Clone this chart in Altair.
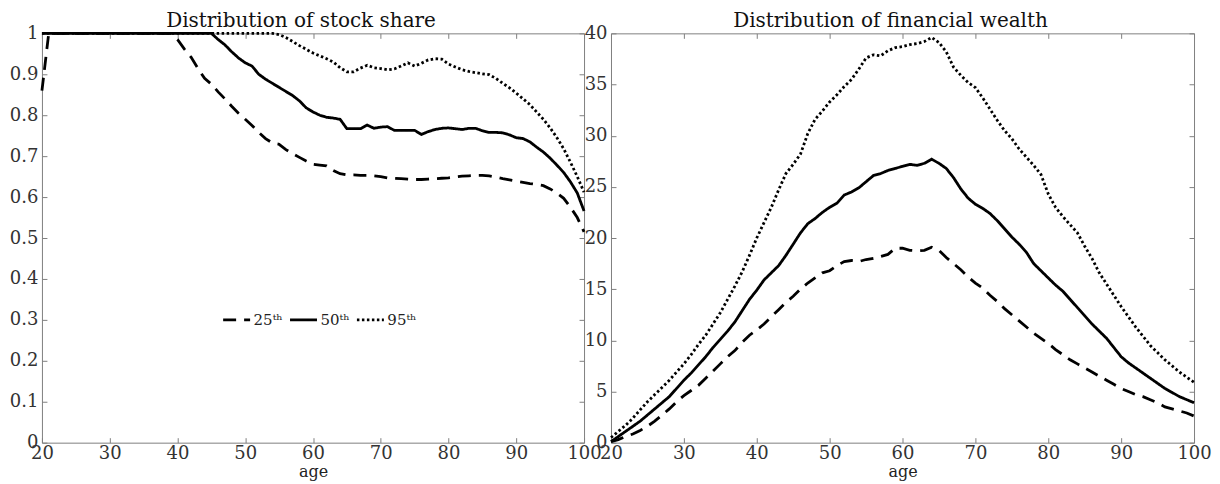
import altair as alt
import pandas as pd

ages = list(range(20, 101))
pct_labels = ["25ᵗʰ", "50ᵗʰ", "95ᵗʰ"]
x_ticks = [20, 30, 40, 50, 60, 70, 80, 90, 100]
share_ticks = [0, 0.1, 0.2, 0.3, 0.4, 0.5, 0.6, 0.7, 0.8, 0.9, 1]
wealth_ticks = [0, 5, 10, 15, 20, 25, 30, 35, 40]

share_p25 = [0.86,
             1.0, 1.0, 1.0, 1.0, 1.0, 1.0, 1.0, 1.0, 1.0, 1.0,
             1.0, 1.0, 1.0, 1.0, 1.0, 1.0, 1.0, 1.0, 1.0,
             0.985, 0.962, 0.942, 0.915, 0.89, 0.876, 0.857, 0.84, 0.822, 0.805,
             0.79, 0.775, 0.758, 0.743, 0.732, 0.729, 0.716, 0.706, 0.697, 0.688,
             0.68, 0.678, 0.676, 0.665, 0.657, 0.654, 0.654, 0.653, 0.653, 0.652,
             0.65, 0.647, 0.646, 0.645, 0.644, 0.643, 0.643, 0.644, 0.645, 0.646,
             0.647, 0.649, 0.651, 0.652, 0.653, 0.653, 0.652, 0.649, 0.645, 0.642,
             0.639, 0.636, 0.633, 0.631, 0.628, 0.62, 0.61, 0.597, 0.575, 0.55,
             0.515]
share_p50 = [1.0, 1.0, 1.0, 1.0, 1.0, 1.0, 1.0, 1.0, 1.0, 1.0,
             1.0, 1.0, 1.0, 1.0, 1.0, 1.0, 1.0, 1.0, 1.0, 1.0,
             1.0, 1.0, 1.0, 1.0, 1.0, 1.0,
             0.985, 0.972, 0.955, 0.94, 0.928, 0.92, 0.90, 0.888, 0.878, 0.868,
             0.858, 0.848, 0.835, 0.818, 0.808, 0.80, 0.795, 0.793, 0.79, 0.767,
             0.767, 0.767, 0.776, 0.768, 0.771, 0.772, 0.763, 0.763, 0.763, 0.763,
             0.753, 0.76, 0.765, 0.768, 0.769, 0.767, 0.765, 0.768, 0.768, 0.762,
             0.758, 0.758, 0.757, 0.752, 0.745, 0.743, 0.735, 0.722, 0.71, 0.695,
             0.678, 0.66, 0.637, 0.61, 0.566]
share_p95 = [1.0, 1.0, 1.0, 1.0, 1.0, 1.0, 1.0, 1.0, 1.0, 1.0,
             1.0, 1.0, 1.0, 1.0, 1.0, 1.0, 1.0, 1.0, 1.0, 1.0,
             1.0, 1.0, 1.0, 1.0, 1.0, 1.0, 1.0, 1.0, 1.0, 1.0,
             1.0, 1.0, 1.0, 1.0, 1.0,
             0.997, 0.99, 0.98, 0.97, 0.961,
             0.952, 0.945, 0.938, 0.93, 0.916, 0.906, 0.906, 0.915, 0.922, 0.916,
             0.914, 0.911, 0.913, 0.92, 0.928, 0.92, 0.927, 0.935, 0.938, 0.937,
             0.925, 0.918, 0.911, 0.907, 0.904, 0.901, 0.899, 0.89, 0.878, 0.867,
             0.854, 0.84, 0.826, 0.808, 0.79, 0.769, 0.745, 0.718, 0.685, 0.65,
             0.612]

wealth_p25 = [0.1, 0.3, 0.6, 0.85, 1.2, 1.6, 2.1, 2.7, 3.3, 4.0,
              4.6, 5.1, 5.6, 6.3, 7.0, 7.7, 8.4, 9.0, 9.8, 10.5,
              11.0, 11.6, 12.3, 13.0, 13.7, 14.3, 15.0, 15.6, 16.1, 16.6,
              16.8, 17.3, 17.7, 17.8, 17.7, 17.9, 18.0, 18.2, 18.4, 19.0,
              19.0, 18.8, 18.75, 18.8, 19.1, 18.8, 18.1, 17.5, 16.9, 16.2,
              15.6, 15.1, 14.4, 13.8, 13.1, 12.5, 11.9, 11.3, 10.7, 10.2,
              9.7, 9.1, 8.6, 8.1, 7.7, 7.3, 6.9, 6.5, 6.1, 5.7,
              5.3, 5.0, 4.7, 4.5, 4.2, 3.9, 3.5, 3.3, 3.1, 2.9,
              2.6]
wealth_p50 = [0.1, 0.6, 1.1, 1.6, 2.1, 2.7, 3.3, 3.9, 4.5, 5.3,
              6.1, 6.8, 7.6, 8.4, 9.3, 10.1, 10.9, 11.8, 12.9, 14.0,
              14.9, 15.9, 16.6, 17.3, 18.3, 19.4, 20.5, 21.4, 21.9, 22.5,
              23.0, 23.4, 24.2, 24.5, 24.9, 25.5, 26.1, 26.3, 26.6, 26.8,
              27.0, 27.2, 27.1, 27.3, 27.7, 27.3, 26.8, 25.9, 24.8, 23.9,
              23.3, 22.9, 22.4, 21.7, 20.9, 20.1, 19.4, 18.6, 17.5, 16.8,
              16.1, 15.4, 14.8, 14.0, 13.2, 12.4, 11.6, 10.9, 10.2, 9.3,
              8.4, 7.8, 7.3, 6.8, 6.3, 5.8, 5.3, 4.9, 4.5, 4.2,
              3.9]
wealth_p95 = [0.5, 1.1, 1.7, 2.4, 3.2, 4.0, 4.7, 5.4, 6.1, 6.9,
              7.7, 8.6, 9.6, 10.5, 11.6, 12.7, 14.0, 15.3, 16.7, 18.3,
              20.0, 21.5, 23.0, 24.7, 26.3, 27.2, 28.2, 30.2, 31.6, 32.4,
              33.3, 34.0, 34.8, 35.5, 36.5, 37.6, 37.9, 37.8, 38.3, 38.6,
              38.7, 38.9, 39.0, 39.2, 39.6, 39.1, 38.2, 36.7, 35.9, 35.2,
              34.7, 33.7, 32.6, 31.5, 30.5, 29.7, 28.7, 27.9, 27.1, 26.2,
              24.3, 23.0, 22.1, 21.3, 20.5, 19.2, 18.0, 16.6, 15.5, 14.4,
              13.3, 12.3, 11.3, 10.4, 9.5, 8.8, 8.1, 7.5, 6.9, 6.4,
              5.9]

SERIF = "DejaVu Serif"
GRAY = "#808080"


def long_table(series):
    rows = []
    for lab, vals in zip(pct_labels, series):
        for a, v in zip(ages, vals):
            rows.append({"age": a, "value": v, "pct": lab})
    return pd.DataFrame(rows)


def panel(df, ydom, yticks, title, w, h, legend):
    xs = alt.Scale(domain=[20, 100], nice=False, zero=False)
    ys = alt.Scale(domain=ydom, nice=False, zero=False)
    common = dict(offset=-5, tickSize=5, domain=False, labelFlush=False,
                  labelOverlap=False, labelBound=False, grid=False)
    dash = alt.StrokeDash(
        "pct:N",
        scale=alt.Scale(domain=pct_labels, range=[[13, 8], [1, 0], [2.5, 2.5]]),
        legend=legend,
    )
    lines = alt.Chart(df).mark_line(color="black", strokeWidth=2.8).encode(
        x=alt.X("age:Q", scale=xs,
                axis=alt.Axis(values=x_ticks, title="age", orient="bottom",
                              format="d", labelPadding=2, titlePadding=1, **common)),
        y=alt.Y("value:Q", scale=ys,
                axis=alt.Axis(values=yticks, title=None, orient="left",
                              format="~g", labelPadding=4, **common)),
        strokeDash=dash,
    )
    ghost = alt.Chart(df).mark_line(opacity=0).encode(
        x=alt.X("age:Q", scale=xs,
                axis=alt.Axis(values=x_ticks, title=None, orient="top",
                              labels=False, **common)),
        y=alt.Y("value:Q", scale=ys,
                axis=alt.Axis(values=yticks, title=None, orient="right",
                              labels=False, **common)),
        detail="pct:N",
    )
    return alt.layer(lines, ghost).resolve_axis(
        x="independent", y="independent"
    ).properties(
        width=w, height=h,
        title=alt.TitleParams(text=title, dx=-12, offset=-7),
    )


legend = alt.Legend(
    orient="none", legendX=180, legendY=272, direction="horizontal",
    title=None, symbolType="stroke", symbolSize=729, symbolStrokeWidth=2.8,
    symbolStrokeColor="black", labelFont=SERIF, labelFontSize=15,
    labelColor="#222", labelOffset=2, columnPadding=0,
)

left = panel(long_table([share_p25, share_p50, share_p95]), [0, 1], share_ticks,
             "Distribution of stock share", 543, 410, legend)
right = panel(long_table([wealth_p25, wealth_p50, wealth_p95]), [0, 40], wealth_ticks,
              "Distribution of financial wealth", 584, 410, None)

chart = alt.hconcat(left, right, spacing=27, bounds="flush").resolve_scale(
    strokeDash="independent"
).resolve_legend(strokeDash="independent").properties(
    padding={"left": 0, "top": 2, "right": 0, "bottom": 0}
).configure_view(
    stroke=GRAY, strokeWidth=1
).configure_axis(
    labelFont=SERIF, labelFontSize=18, labelColor="#333",
    titleFont=SERIF, titleFontSize=16, titleFontWeight="normal", titleColor="#222",
    tickColor=GRAY, tickWidth=1,
).configure_title(
    font=SERIF, fontSize=20, fontWeight="normal", color="#111", anchor="middle",
)

chart.save("out.html", embed_options={"renderer": "svg", "actions": False})
